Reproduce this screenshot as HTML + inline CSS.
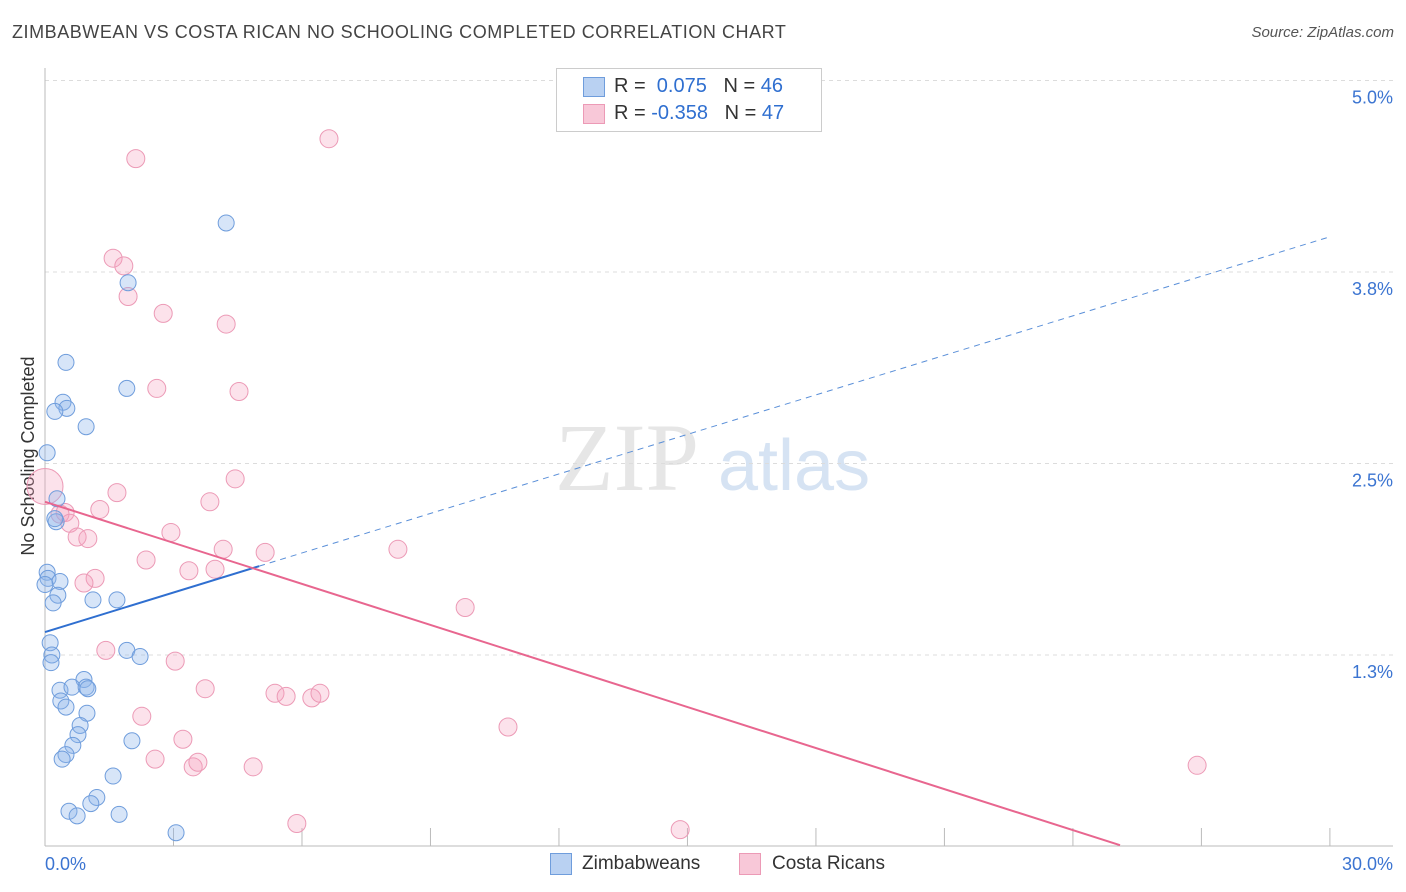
<!DOCTYPE html>
<html><head><meta charset="utf-8">
<style>
body{margin:0;background:#fff;font-family:"Liberation Sans",sans-serif;}
#wrap{position:relative;width:1406px;height:892px;overflow:hidden;}
.t{position:absolute;white-space:nowrap;}
</style></head>
<body><div id="wrap">
<div class="t" style="left:12px;top:22px;font-size:18px;color:#444;letter-spacing:0.55px">ZIMBABWEAN VS COSTA RICAN NO SCHOOLING COMPLETED CORRELATION CHART</div>
<div class="t" style="right:12px;top:24px;font-size:15px;color:#555;font-style:italic">Source: ZipAtlas.com</div>
<svg id="svg" width="1406" height="892" style="position:absolute;left:0;top:0"></svg>
</div>
<script>
const xTicks=[0,3,6,9,12,15,18,21,24,27,30];
const yTicks=[1.25,2.5,3.75,5.0];
const yTickLabels=["1.3%","2.5%","3.8%","5.0%"];
const xTickLabels=["0.0%","30.0%"];
const blueX=[4.23,1.94,0.49,1.91,0.42,0.51,0.23,0.96,0.05,0.28,0.26,0.23,0.05,0.07,0.35,0.30,0.19,1.12,1.68,0.12,0.16,0.14,1.91,2.22,0.91,0.35,0.63,0.96,1.00,0.37,0.49,0.98,0.82,0.77,0.65,0.49,0.40,2.03,1.59,1.21,1.07,0.56,0.75,1.73,3.06,0.0];
const blueY=[4.07,3.68,3.16,2.99,2.90,2.86,2.84,2.74,2.57,2.27,2.12,2.14,1.79,1.75,1.73,1.64,1.59,1.61,1.61,1.33,1.25,1.20,1.28,1.24,1.09,1.02,1.04,1.04,1.03,0.95,0.91,0.87,0.79,0.73,0.66,0.60,0.57,0.69,0.46,0.32,0.28,0.23,0.20,0.21,0.09,1.71];
const pinkX=[6.63,2.12,1.59,1.84,1.94,2.76,4.23,2.61,4.53,4.44,1.68,3.85,1.28,0.47,0.35,0.58,0.75,1.00,2.94,0,5.14,4.16,8.24,2.36,3.36,3.97,1.17,0.91,9.81,1.42,3.04,3.74,5.37,5.63,6.23,6.42,2.26,3.22,10.81,2.57,3.46,3.57,4.86,26.90,5.88,14.83];
const pinkY=[4.62,4.49,3.84,3.79,3.59,3.48,3.41,2.99,2.97,2.40,2.31,2.25,2.20,2.18,2.17,2.11,2.02,2.01,2.05,2.35,1.92,1.94,1.94,1.87,1.80,1.81,1.75,1.72,1.56,1.28,1.21,1.03,1.00,0.98,0.97,1.00,0.85,0.70,0.78,0.57,0.52,0.55,0.52,0.53,0.15,0.11];
const pinkR=[9,9,9,9,9,9,9,9,9,9,9,9,9,9,9,9,9,9,9,18,9,9,9,9,9,9,9,9,9,9,9,9,9,9,9,9,9,9,9,9,9,9,9,9,9,9];
const blueTrend=[1.40,3.98];
const blueSolidEnd=5.0;
const pinkTrend=[2.25,-0.0893];
const pinkEnd=25.1;

const X=v=>45+v*42.83, Y=v=>846.5-v*153.2;
const svg=document.getElementById('svg');
const NS='http://www.w3.org/2000/svg';
function mk(tag,attrs,parent){const e=document.createElementNS(NS,tag);for(const k in attrs)e.setAttribute(k,attrs[k]);(parent||svg).appendChild(e);return e;}
let wm=mk('text',{x:555,y:490,'font-size':96,'font-family':'Liberation Serif',fill:'#e6e6e6'});wm.textContent='ZIP';


let wm2=mk('text',{x:718,y:490,'font-size':72,'font-family':'Liberation Sans',fill:'#d6e3f3'});wm2.textContent='atlas';


yTicks.forEach((t,i)=>{
 const g=mk('line',{x1:45,x2:1393,y1:Y(t),y2:Y(t),stroke:'#dcdcdc','stroke-dasharray':'4,4'});
 
 
 const l=mk('text',{x:1393,y:Y(t)+23,'text-anchor':'end','font-size':18,fill:'#3b74d1'});l.textContent=yTickLabels[i];
 
 
});
mk('line',{x1:45,x2:45,y1:68,y2:846,stroke:'#bbb'});
const xa=mk('line',{x1:45,x2:1393,y1:846,y2:846,stroke:'#bbb'});


xTicks.forEach(t=>{const k=mk('line',{x1:X(t),x2:X(t),y1:828,y2:846,stroke:'#bbb'});
 
 });
let xl=mk('text',{x:45,y:870,'font-size':18,fill:'#3b74d1'});xl.textContent=xTickLabels[0];


let xr=mk('text',{x:1393,y:870,'text-anchor':'end','font-size':18,fill:'#3b74d1'});xr.textContent=xTickLabels[1];


let yt=mk('text',{x:34,y:456,'text-anchor':'middle','font-size':18,fill:'#333',transform:'rotate(-90 34 456)'});yt.textContent='No Schooling Completed';


pinkX.forEach((v,i)=>{const c=mk('circle',{cx:X(v),cy:Y(pinkY[i]),r:pinkR[i],fill:'rgba(244,160,190,0.3)',stroke:'#ec9ab6','stroke-width':1});
 
 });
blueX.forEach((v,i)=>{const c=mk('circle',{cx:X(v),cy:Y(blueY[i]),r:8,fill:'rgba(140,180,235,0.35)',stroke:'#6f9ddc','stroke-width':1});
 
 });
const bAt=x=>blueTrend[0]+(blueTrend[1]-blueTrend[0])*x/30;
let bl=mk('line',{x1:X(0),y1:Y(bAt(0)),x2:X(blueSolidEnd),y2:Y(bAt(blueSolidEnd)),stroke:'#2f6fd0','stroke-width':2});


let bd=mk('line',{x1:X(blueSolidEnd),y1:Y(bAt(blueSolidEnd)),x2:X(30),y2:Y(bAt(30)),stroke:'#5a8fd8','stroke-width':1,'stroke-dasharray':'6,5'});


let pl=mk('line',{x1:X(0),y1:Y(pinkTrend[0]),x2:X(pinkEnd),y2:Y(pinkTrend[0]+pinkTrend[1]*pinkEnd),stroke:'#e8668f','stroke-width':2});


</script>
<div class="t" style="left:556px;top:68px;width:264px;height:62px;border:1px solid #ccc;background:#fff">
 <div class="t" style="left:26px;top:8px;width:20px;height:18px;background:#b9d1f2;border:1px solid #6f9ddc"></div>
 <div class="t" style="left:57px;top:6px;font-size:20px;color:#333">R = &nbsp;<span style="color:#2f6fd0">0.075</span>&nbsp;&nbsp;&nbsp;N = <span style="color:#2f6fd0">46</span></div>
 <div class="t" style="left:26px;top:35px;width:20px;height:18px;background:#f8c8d8;border:1px solid #ec9ab6"></div>
 <div class="t" style="left:57px;top:33px;font-size:20px;color:#333">R = <span style="color:#2f6fd0">-0.358</span>&nbsp;&nbsp;&nbsp;N = <span style="color:#2f6fd0">47</span></div>
</div>
<div class="t" style="left:550px;top:853px;width:20px;height:20px;background:#b9d1f2;border:1px solid #6f9ddc"></div>
<div class="t" style="left:582px;top:853px;font-size:19px;color:#333">Zimbabweans</div>
<div class="t" style="left:739px;top:853px;width:20px;height:20px;background:#f8c8d8;border:1px solid #ec9ab6"></div>
<div class="t" style="left:772px;top:853px;font-size:19px;color:#333">Costa Ricans</div>
</body></html>
